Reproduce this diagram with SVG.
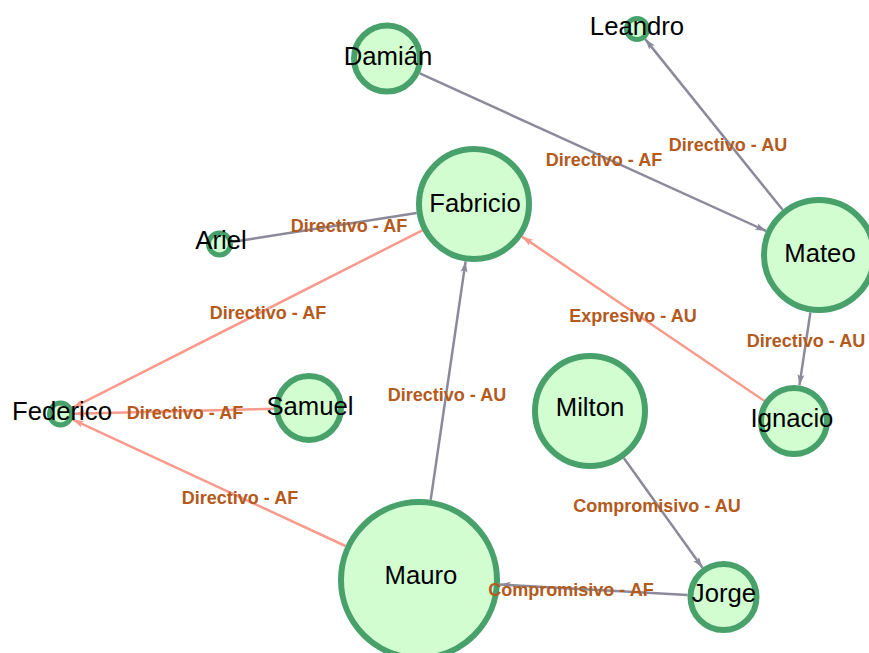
<svg xmlns="http://www.w3.org/2000/svg" width="869" height="653" viewBox="0 0 869 653">
<defs>
<marker id="ag" viewBox="0 0 11 8" refX="11" refY="4" markerWidth="11" markerHeight="8" markerUnits="userSpaceOnUse" orient="auto"><path d="M0,0.5 L11,4 L0,7.5 L2.5,4 z" fill="#8a8a9a"/></marker>
<marker id="ar" viewBox="0 0 11 8" refX="11" refY="4" markerWidth="11" markerHeight="8" markerUnits="userSpaceOnUse" orient="auto"><path d="M0,0.5 L11,4 L0,7.5 L2.5,4 z" fill="#f99a8c"/></marker>
<style>
.g{stroke:#8a8a9a;stroke-width:2.5;fill:none;marker-end:url(#ag)}
.r{stroke:#f99a8c;stroke-width:2.5;fill:none;marker-end:url(#ar)}
.n{fill:#d2fdd0;stroke:#48a16a;stroke-width:6}
.s{fill:#d2fdd0;stroke:#48a16a;stroke-width:5}
.t{font-family:"Liberation Sans",Arial,sans-serif;font-size:25.7px;fill:#000;text-anchor:middle}
.e{font-family:"Liberation Sans",Arial,sans-serif;font-size:18px;font-weight:bold;fill:#b35a1c;text-anchor:middle}
</style>
</defs>
<g id="connectors">
<line class="g" x1="419.8" y1="73.4" x2="766.2" y2="231"/>
<line class="g" x1="782.6" y1="209.8" x2="645.2" y2="39.1"/>
<line class="g" style="marker-end:none" x1="232.3" y1="242" x2="416.7" y2="213"/>
<line class="r" x1="422.3" y1="230.3" x2="72.5" y2="407.9"/>
<line class="r" x1="274" y1="408.8" x2="74" y2="413.7"/>
<line class="r" x1="345.5" y1="546" x2="72.8" y2="419.7"/>
<line class="g" x1="430.7" y1="499.9" x2="465.6" y2="261.4"/>
<line class="r" x1="764.2" y1="400.8" x2="522" y2="236.6"/>
<line class="g" x1="810.4" y1="312.4" x2="799.4" y2="385.4"/>
<line class="g" x1="623.8" y1="458.1" x2="702.5" y2="567.8"/>
<line class="g" x1="687.6" y1="595" x2="499.9" y2="584.5"/>
</g>
<g id="node-leandro"><circle class="s" cx="637" cy="29" r="10.5"/><text class="t" x="637" y="35">Leandro</text></g>
<g id="node-damian"><circle class="n" cx="387" cy="58.5" r="33"/><text class="t" x="388" y="65">Damián</text></g>
<g id="node-fabricio"><circle class="n" cx="474" cy="204" r="55"/><text class="t" x="475" y="212">Fabricio</text></g>
<g id="node-ariel"><circle class="s" cx="219.5" cy="244" r="11"/><text class="t" x="221" y="249">Ariel</text></g>
<g id="node-mateo"><circle class="n" cx="819" cy="255" r="55"/><text class="t" x="820" y="262">Mateo</text></g>
<g id="node-federico"><circle class="s" cx="60.5" cy="414" r="11"/><text class="t" x="62" y="420">Federico</text></g>
<g id="node-samuel"><circle class="n" cx="309" cy="408" r="32"/><text class="t" x="310" y="415">Samuel</text></g>
<g id="node-milton"><circle class="n" cx="590" cy="411" r="55"/><text class="t" x="590" y="416">Milton</text></g>
<g id="node-ignacio"><circle class="n" cx="794" cy="421" r="33"/><text class="t" x="792" y="427">Ignacio</text></g>
<g id="node-mauro"><circle class="n" cx="419" cy="580" r="78"/><text class="t" x="421" y="584">Mauro</text></g>
<g id="node-jorge"><circle class="n" cx="723.5" cy="597" r="33"/><text class="t" x="724" y="602">Jorge</text></g>
<g id="edge-labels">
<text class="e" x="604" y="166">Directivo - AF</text>
<text class="e" x="728" y="151">Directivo - AU</text>
<text class="e" x="349" y="232">Directivo - AF</text>
<text class="e" x="268" y="319">Directivo - AF</text>
<text class="e" x="185" y="419">Directivo - AF</text>
<text class="e" x="240" y="504">Directivo - AF</text>
<text class="e" x="447" y="401">Directivo - AU</text>
<text class="e" x="633" y="322">Expresivo - AU</text>
<text class="e" x="806" y="347">Directivo - AU</text>
<text class="e" x="657" y="512">Compromisivo - AU</text>
<text class="e" x="571" y="596">Compromisivo - AF</text>
</g>
</svg>
